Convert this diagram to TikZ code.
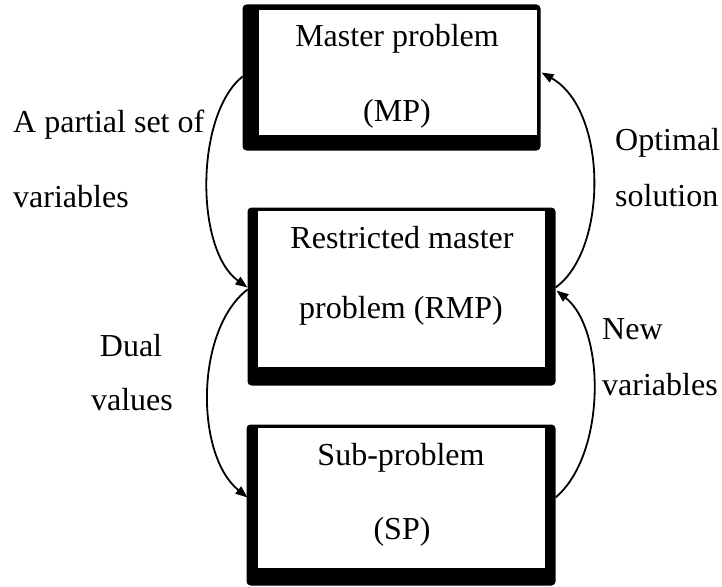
\documentclass[tikz,border=0pt]{standalone}
\usepackage{fontspec}
\setmainfont{Liberation Serif}
\usetikzlibrary{calc,arrows.meta,backgrounds}
\begin{document}
\begin{tikzpicture}[x=1pt,y=-1pt,
  box/.style={draw=black,line width=1pt,fill=white,inner sep=0pt},
  shade/.style={fill=black,rounded corners=4pt},
  txt/.style={font=\fontsize{32}{38}\selectfont,inner sep=0pt},
  arc/.style={line width=1.8pt,-{Triangle[length=12pt,width=9pt]}}]
\useasboundingbox (0,0) rectangle (722,586);
% boxes
\node[box,minimum width=279pt,minimum height=125pt] (mp) at (397.5,72.5) {};
\node[box,minimum width=288pt,minimum height=157pt] (rmp) at (401,288.5) {};
\node[box,minimum width=288pt,minimum height=141pt] (sp) at (401,497.5) {};
\begin{scope}[on background layer]
  \fill[shade] ($(mp.north west)+(-15,-5)$) rectangle ($(mp.south east)+(3,15)$);
  \fill[shade] ($(rmp.north west)+(-9,-2)$) rectangle ($(rmp.south east)+(10,18)$);
  \fill[shade] ($(sp.north west)+(-10,-2)$) rectangle ($(sp.south east)+(10,17)$);
\end{scope}
% box texts
\node[txt,anchor=base] (mp1) at (397,47) {Master problem};
\node[txt,anchor=base] (mp2) at (397,121) {(MP)};
\node[txt,anchor=base] (rmp1) at (402,248) {Restricted master};
\node[txt,anchor=base] (rmp2) at (401,318) {problem (RMP)};
\node[txt,anchor=base] (sp1) at (401,465) {Sub-problem};
\node[txt,anchor=base] (sp2) at (402,539) {(SP)};
% labels
\node[txt,anchor=base west] (l1) at (13,132) {A partial set of};
\node[txt,anchor=base west] (l2) at (13,207) {variables};
\node[txt,anchor=base] (l3) at (131,356) {Dual};
\node[txt,anchor=base] (l4) at (132,410) {values};
\node[txt,anchor=base west] (r1) at (615,150) {Optimal};
\node[txt,anchor=base west] (r2) at (615,206) {solution};
\node[txt,anchor=base west] (r3) at (602,339) {New};
\node[txt,anchor=base west] (r4) at (602,395) {variables};
% connectors
\draw[arc] ($(mp.west)+(-15,4)$) .. controls (195,115) and (195,250) .. ($(rmp.west)+(-9,-1)$);
\draw[arc] ($(rmp.east)+(10,-1)$) .. controls (608,250) and (608,110) .. ($(mp.east)+(4,0)$);
\draw[arc] ($(rmp.west)+(-9,1)$) .. controls (195,330) and (195,455) .. ($(sp.west)+(-9,0)$);
\draw[arc] ($(sp.east)+(10,0)$) .. controls (606,455) and (606,330) .. ($(rmp.east)+(11,2)$);
\end{tikzpicture}
\end{document}
